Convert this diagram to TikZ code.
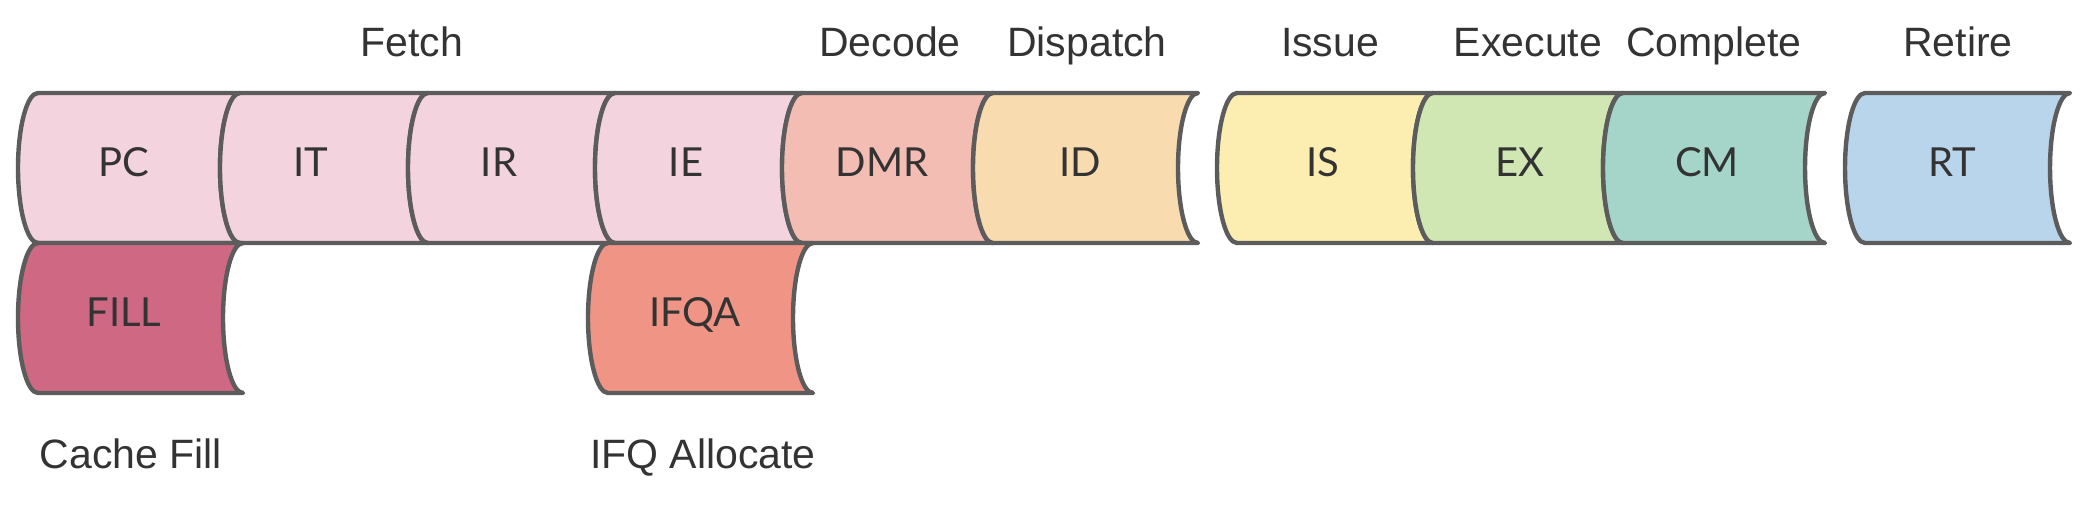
\documentclass[tikz,border=0pt]{standalone}
\usepackage{fontspec}
\setmainfont{Liberation Sans}
\newfontfamily\innerfont{Lato}
\definecolor{strokegray}{HTML}{5C5C5C}
\definecolor{txt}{HTML}{333333}
\definecolor{fetchpink}{HTML}{F2D3DE}
\definecolor{dmrcol}{HTML}{F4BDB4}
\definecolor{idcol}{HTML}{F8DBAE}
\definecolor{iscol}{HTML}{FCEDB0}
\definecolor{excol}{HTML}{D0E7B3}
\definecolor{cmcol}{HTML}{A5D5C9}
\definecolor{rtcol}{HTML}{B9D5EC}
\definecolor{fillcol}{HTML}{CF6883}
\definecolor{ifqacol}{HTML}{F09585}
\tikzset{
  stagebox/.style={draw=strokegray, line width=2.2pt, line join=round},
  lbl/.style={font=\innerfont\fontsize{20}{24}\selectfont, text=txt, inner sep=0pt, anchor=base},
  head/.style={font=\fontsize{20.5}{24}\selectfont, text=txt, inner sep=0pt, anchor=base},
}
% #1 left extreme x, #2 right corner x, #3 top y, #4 fill colour
\newcommand\pipestage[4]{%
  \path[stagebox, fill=#4] (#1+20,#3) -- (#2,#3)
    arc[start angle=90, end angle=270, x radius=10pt, y radius=37.5pt]
    -- (#1+20,#3+150)
    arc[start angle=270, end angle=90, x radius=10pt, y radius=37.5pt]
    -- cycle;}
\begin{document}
\begin{tikzpicture}[x=0.5pt, y=-0.5pt]
\useasboundingbox (0,0) rectangle (2096,523);
% top row
\pipestage{18}{240}{93}{fetchpink}
\pipestage{220}{428}{93}{fetchpink}
\pipestage{408}{615}{93}{fetchpink}
\pipestage{595}{802}{93}{fetchpink}
\pipestage{782}{993}{93}{dmrcol}
\pipestage{973}{1198}{93}{idcol}
\pipestage{1217}{1433}{93}{iscol}
\pipestage{1413}{1623}{93}{excol}
\pipestage{1603}{1825}{93}{cmcol}
\pipestage{1845}{2070}{93}{rtcol}
% bottom row
\pipestage{18}{243}{243}{fillcol}
\pipestage{588}{813}{243}{ifqacol}
% inner labels
\node[lbl] (pc) at (124,177) {PC};
\node[lbl] (it) at (311,177) {IT};
\node[lbl] (ir) at (499,177) {IR};
\node[lbl] (ie) at (686,177) {IE};
\node[lbl] (dmr) at (882,177) {DMR};
\node[lbl] (id) at (1080,177) {ID};
\node[lbl] (is) at (1323,177) {IS};
\node[lbl] (ex) at (1520,177) {EX};
\node[lbl] (cm) at (1707,177) {CM};
\node[lbl] (rt) at (1952,177) {RT};
\node[lbl] (fill) at (124,327) {FILL};
\node[lbl] (ifqa) at (695,327) {IFQA};
% stage headings
\node[head] (fetch) at (412,57) {Fetch};
\node[head] (decode) at (890,57) {Decode};
\node[head] (dispatch) at (1087,57) {Dispatch};
\node[head] (issue) at (1330,57) {Issue};
\node[head] (execute) at (1528,57) {Execute};
\node[head] (complete) at (1714,57) {Complete};
\node[head] (retire) at (1958,57) {Retire};
% bottom notes
\node[head] (cachefill) at (131,468) {Cache Fill};
\node[head] (ifqalloc) at (703,468) {IFQ Allocate};
\end{tikzpicture}
\end{document}
